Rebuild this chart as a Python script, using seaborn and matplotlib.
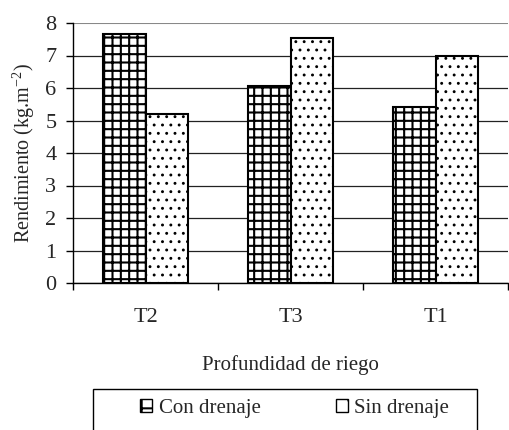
import pandas as pd
import numpy as np
import seaborn as sns
import matplotlib.pyplot as plt
from matplotlib.patches import Patch, Rectangle

# valores
tratamientos = ['T2', 'T3', 'T1']
con_drenaje = [7.65, 6.05, 5.42]
sin_drenaje = [5.2, 7.55, 6.98]
series = ['Con drenaje', 'Sin drenaje']
hatches = ['++', '..']

df = pd.DataFrame({
    'tratamiento': tratamientos * 2,
    'rendimiento': con_drenaje + sin_drenaje,
    'serie': [series[0]] * 3 + [series[1]] * 3,
})

sns.set_theme(style="white")
plt.rcParams['font.family'] = ['Liberation Serif', 'DejaVu Serif']
plt.rcParams['mathtext.fontset'] = 'custom'
plt.rcParams['mathtext.rm'] = 'Liberation Serif'
plt.rcParams['mathtext.it'] = 'Liberation Serif:italic'
plt.rcParams['hatch.linewidth'] = 1.5
plt.rcParams['hatch.color'] = 'black'

fig = plt.figure(figsize=(5.09, 4.30), dpi=100)
ax = fig.add_axes([73/509, 1-283/430, 435/509, 260/430])

sns.barplot(data=df, x='tratamiento', y='rendimiento', hue='serie',
            palette={'Con drenaje': 'white', 'Sin drenaje': 'white'},
            edgecolor='black', linewidth=1.5, width=0.58, gap=0,
            saturation=1, legend=False, ax=ax)

for cont, h in zip(ax.containers, hatches):
    for bar in cont:
        bar.set_hatch(h)
        if h == '..':
            # puntos mas finos
            if hasattr(bar, 'set_hatch_linewidth'):
                bar.set_hatch_linewidth(0.9)
            else:
                bar._hatch_linewidth = 0.9

ax.set_xlim(-0.5, 2.5)
ax.set_ylim(0, 8)
ax.set_yticks(range(0, 9))
ax.yaxis.grid(True, color='#222222', linewidth=0.9)
ax.get_ygridlines()[-1].set_color('#888888')
ax.get_ygridlines()[-1].set_linewidth(1.5)
ax.set_axisbelow(True)
for s in ['top', 'right']:
    ax.spines[s].set_visible(False)
for s in ['left', 'bottom']:
    ax.spines[s].set_color('black')
    ax.spines[s].set_linewidth(1)

# marcas entre categorias
ax.set_xticks([-0.5, 0.5, 1.5, 2.5], minor=True)
ax.tick_params(axis='x', which='minor', length=5, width=1, color='black', direction='out', bottom=True)
ax.tick_params(axis='x', which='major', length=0, pad=18, labelsize=16)
ax.tick_params(axis='y', length=5, width=1, color='black', direction='out', left=True, pad=7, labelsize=16)

ax.set_xlabel('Profundidad de riego', fontsize=15, labelpad=20)
ax.set_ylabel('Rendimiento (kg.m$^{\\mathregular{-2}}$)', fontsize=14.5, labelpad=6)

handles = [Patch(facecolor='white', edgecolor='black', hatch=h, label=s)
           for s, h in zip(series, ['+', '.'])]
fig.legend(handles=handles, loc='center', bbox_to_anchor=((143+446)/2/509, 1-408/430),
           ncol=2, frameon=False, fontsize=15, handlelength=0.6, handleheight=0.6,
           handletextpad=0.3, columnspacing=3.6)
fig.patches.append(Rectangle((93/509, -0.05), 384/509, (430-389)/430+0.05,
                             transform=fig.transFigure, fill=False,
                             edgecolor='black', linewidth=1))

fig.savefig('out.png', dpi=100)
